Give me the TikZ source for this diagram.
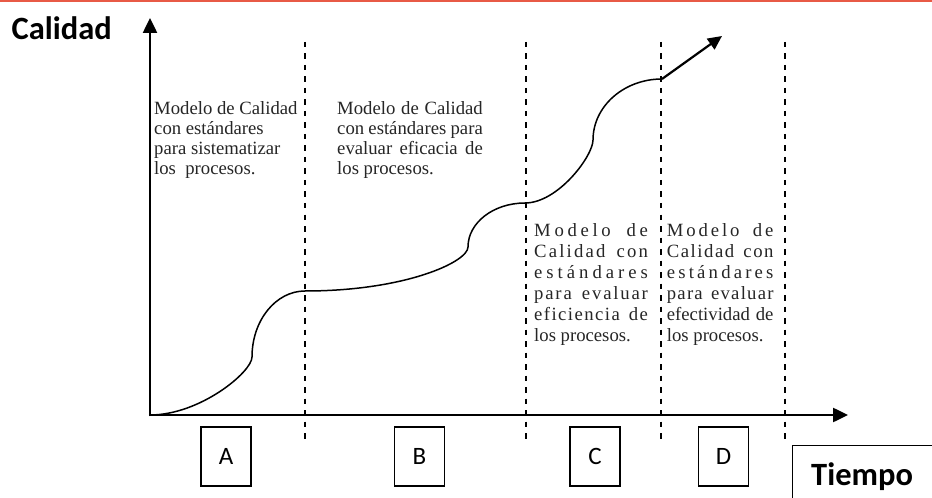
\documentclass[tikz,border=0pt]{standalone}
\usepackage{fontspec}
\setmainfont{Liberation Serif}
\newfontfamily\calib{Carlito}
\usetikzlibrary{arrows.meta}
\newcommand\gapL{\hskip 0pt plus 1fil\relax}
\newcommand\gapW{\hskip 4.7bp plus 3fil\relax}
\definecolor{topred}{RGB}{232,90,70}
\begin{document}
\begin{tikzpicture}[x=1bp,y=-1bp,
  axis/.style={line width=2.5bp,-{Triangle[length=15bp,width=14bp]}},
  sep/.style={line width=1.8bp,dash pattern=on 5.5bp off 6bp},
  curve/.style={line width=1.5bp},
  lettbox/.style={draw,line width=1.2bp,minimum width=50bp,minimum height=59bp,inner sep=0pt,font=\calib\fontsize{25bp}{30bp}\selectfont},
  title/.style={font=\calib\bfseries\fontsize{32.5bp}{36bp}\selectfont,inner sep=0pt},
  txt/.style={font=\fontsize{18.7bp}{20bp}\selectfont,inner sep=0pt,anchor=base west,text=black!85}]
\useasboundingbox (0,0) rectangle (932,498);
\fill[white] (0,0) rectangle (932,498);
\draw[topred,line width=1.6bp] (0,1.2) -- (932,1.2);

% axes
\coordinate (O) at (150,415);
\coordinate (ytip) at (150,18);
\coordinate (xtip) at (848,415);
\coordinate (xstart) at (148.75,415);
\draw[axis] (150,416.25) -- (ytip);
\draw[axis] (xstart) -- (xtip);

% dashed separators
\foreach \xx/\nm in {305/s1,526/s2,661/s3,785/s4}{
  \coordinate (\nm t) at (\xx,42);
  \coordinate (\nm b) at (\xx,441);
  \draw[sep] (\nm t) -- (\nm b);
}

% quality curve
\coordinate (p1) at (252,357);
\coordinate (p2) at (305,291);
\coordinate (p3) at (468,247);
\coordinate (p4) at (525,203);
\coordinate (p5) at (593,140);
\coordinate (p6) at (662,79);
\coordinate (ctip) at (722,36);
\draw[curve] (O) .. controls (200,415) and (252,372) .. (p1)
  .. controls (252,320.5) and (275.7,291) .. (p2)
  .. controls (405,291) and (468,262) .. (p3)
  .. controls (468,222.7) and (493.5,203) .. (p4)
  .. controls (558,203) and (593,156) .. (p5)
  .. controls (593,106.3) and (623.9,79) .. (p6);
\draw[line width=2.2bp,-{Triangle[length=14bp,width=13bp]}] (p6) -- (ctip);

% titles
\node[title,anchor=base west] (cal) at (11.5,40) {Calidad};

% column 1
\node[txt] (a1) at (154,115) {Modelo de Calidad};
\node[txt] (a2) at (154,135) {con estándares};
\node[txt] (a3) at (154,155) {para sistematizar};
\node[txt] (a4) at (154,175) {los\ \ procesos.};

% column 2
\node[txt] (b1) at (337,115) {\makebox[145.6bp][s]{Modelo de Calidad}};
\node[txt] (b2) at (337,135) {\makebox[145.6bp][s]{con estándares para}};
\node[txt] (b3) at (337,155) {\makebox[145.6bp][s]{evaluar eficacia de}};
\node[txt] (b4) at (337,175) {los procesos.};

% column 3
\node[txt] (c1) at (534,236.7) {\makebox[113.7bp][s]{M\gapL o\gapL d\gapL e\gapL l\gapL o\gapW d\gapL e}};
\node[txt] (c2) at (534,257.7) {\makebox[113.7bp][s]{C\gapL a\gapL l\gapL i\gapL d\gapL a\gapL d\gapW c\gapL o\gapL n}};
\node[txt] (c3) at (534,278.7) {\makebox[113.7bp][s]{e\gapL s\gapL t\gapL á\gapL n\gapL d\gapL a\gapL r\gapL e\gapL s}};
\node[txt] (c4) at (534,299.7) {\makebox[113.7bp][s]{p\gapL a\gapL r\gapL a\gapW e\gapL v\gapL a\gapL l\gapL u\gapL a\gapL r}};
\node[txt] (c5) at (534,320.7) {\makebox[113.7bp][s]{e\gapL f\gapL i\gapL c\gapL i\gapL e\gapL n\gapL c\gapL i\gapL a\gapW d\gapL e}};
\node[txt] (c6) at (534,341.7) {los procesos.};

% column 4
\node[txt] (d1) at (666.7,236.7) {\makebox[106.6bp][s]{M\gapL o\gapL d\gapL e\gapL l\gapL o\gapW d\gapL e}};
\node[txt] (d2) at (666.7,257.7) {\makebox[106.6bp][s]{C\gapL a\gapL l\gapL i\gapL d\gapL a\gapL d\gapW c\gapL o\gapL n}};
\node[txt] (d3) at (666.7,278.7) {\makebox[106.6bp][s]{e\gapL s\gapL t\gapL á\gapL n\gapL d\gapL a\gapL r\gapL e\gapL s}};
\node[txt] (d4) at (666.7,299.7) {\makebox[106.6bp][s]{p\gapL a\gapL r\gapL a\gapW e\gapL v\gapL a\gapL l\gapL u\gapL a\gapL r}};
\node[txt] (d5) at (666.7,320.7) {\makebox[106.6bp][s]{efectividad de}};
\node[txt] (d6) at (666.7,341.7) {los procesos.};

% letter boxes
\node[lettbox] (A) at (226,456.5) {A};
\node[lettbox] (B) at (419.5,456.5) {B};
\node[lettbox] (C) at (595,456.5) {C};
\node[lettbox] (D) at (723.5,456.5) {D};

% Tiempo box (runs past the picture edge)
\begin{scope}
\clip (0,0) rectangle (932,498);
\node[draw,line width=1.2bp,anchor=north west,minimum width=160bp,minimum height=70bp,inner sep=0pt] (tbox) at (792,445) {};
\end{scope}
\node[title,anchor=base west] (tiempo) at (811,485) {Tiempo};
\end{tikzpicture}
\end{document}
